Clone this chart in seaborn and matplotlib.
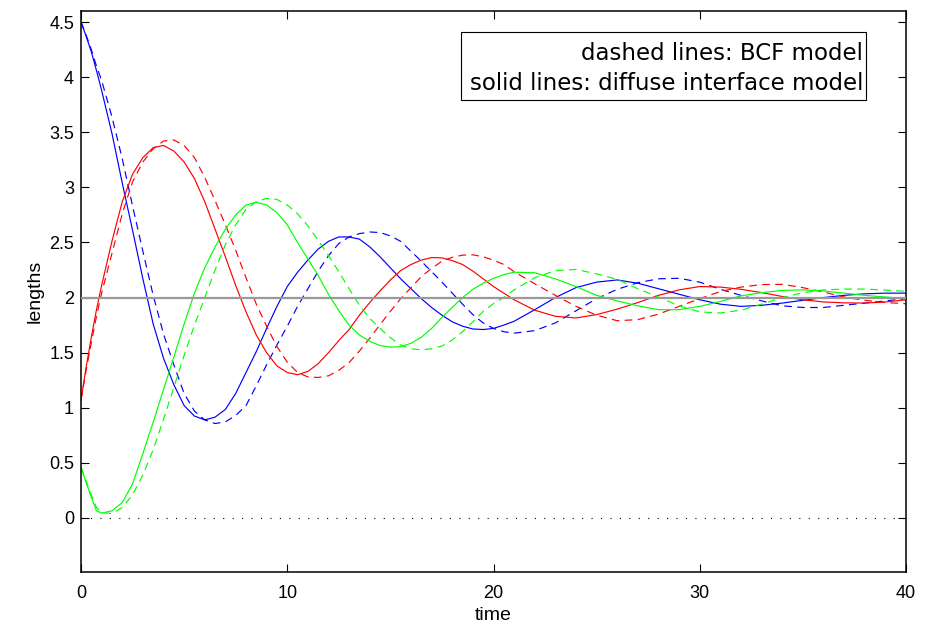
import numpy as np
import pandas as pd
import matplotlib
matplotlib.use("Agg")
import matplotlib.pyplot as plt
import seaborn as sns
from matplotlib.patches import Rectangle

# ---- island lengths over time (solid: diffuse interface model, dashed: BCF model) ----
time = [0, 0.25, 0.5, 0.75, 1.0, 1.5, 2.0, 2.5, 3.0, 3.5, 4.0, 4.5, 5.0, 5.5, 6.0, 6.5,
        7.0, 7.5, 8.0, 8.5, 9.0, 9.5, 10.0, 10.5, 11.0, 11.5, 12.0, 12.5, 13.0, 13.5,
        14.0, 14.5, 15.0, 15.5, 16.0, 16.5, 17.0, 17.5, 18.0, 18.5, 19.0, 19.5, 20.0,
        20.5, 21, 22, 23, 24, 25, 26, 27, 28, 29, 30, 31, 32, 33, 34, 35, 36, 37, 38,
        39, 40]

blue_solid = [4.50, 4.37, 4.23, 4.06, 3.88, 3.49, 3.04, 2.61, 2.17, 1.76, 1.45, 1.21, 1.02,
              0.925, 0.89, 0.915, 0.985, 1.13, 1.32, 1.51, 1.72, 1.92, 2.10, 2.23, 2.34, 2.44,
              2.51, 2.55, 2.55, 2.53, 2.46, 2.37, 2.27, 2.17, 2.08, 1.99, 1.91, 1.84, 1.78,
              1.74, 1.715, 1.71, 1.72, 1.75, 1.785, 1.89, 2.0, 2.09, 2.14, 2.16, 2.13, 2.08,
              2.03, 1.98, 1.94, 1.92, 1.93, 1.95, 1.975, 2.0, 2.02, 2.034, 2.04, 2.04]

blue_dashed = [4.50, 4.38, 4.25, 4.10, 3.97, 3.64, 3.26, 2.83, 2.42, 2.02, 1.67, 1.39, 1.13,
               0.97, 0.89, 0.857, 0.872, 0.93, 1.02, 1.20, 1.39, 1.57, 1.74, 1.92, 2.08,
               2.24, 2.38, 2.49, 2.55, 2.58, 2.595, 2.59, 2.56, 2.51, 2.42, 2.33, 2.235, 2.14,
               2.04, 1.94, 1.845, 1.77, 1.72, 1.69, 1.677, 1.70, 1.77, 1.88, 1.99, 2.075,
               2.135, 2.17, 2.175, 2.14, 2.075, 2.02, 1.97, 1.925, 1.91, 1.91, 1.93, 1.95,
               1.97, 1.99]

red_solid = [1.07, 1.37, 1.64, 1.89, 2.11, 2.51, 2.87, 3.12, 3.27, 3.36, 3.38, 3.33, 3.23,
             3.08, 2.87, 2.62, 2.37, 2.11, 1.87, 1.66, 1.50, 1.38, 1.32, 1.30, 1.33, 1.40,
             1.50, 1.61, 1.71, 1.84, 1.955, 2.06, 2.16, 2.245, 2.30, 2.34, 2.363, 2.36,
             2.335, 2.30, 2.24, 2.17, 2.10, 2.04, 1.98, 1.885, 1.83, 1.815, 1.845, 1.895,
             1.955, 2.02, 2.07, 2.10, 2.095, 2.075, 2.045, 2.01, 1.98, 1.96, 1.952, 1.95,
             1.96, 1.98]

red_dashed = [1.07, 1.34, 1.59, 1.83, 2.04, 2.40, 2.76, 3.05, 3.23, 3.35, 3.42, 3.43, 3.38,
              3.27, 3.09, 2.88, 2.66, 2.43, 2.18, 1.94, 1.74, 1.555, 1.415, 1.32, 1.28,
              1.275, 1.29, 1.34, 1.41, 1.515, 1.63, 1.755, 1.875, 1.99, 2.09, 2.19, 2.265,
              2.33, 2.365, 2.385, 2.388, 2.37, 2.34, 2.30, 2.235, 2.125, 2.02, 1.92, 1.84,
              1.79, 1.80, 1.85, 1.92, 1.99, 2.055, 2.095, 2.118, 2.12, 2.09, 2.05, 2.005,
              1.975, 1.955, 1.944]

green_solid = [0.46, 0.32, 0.19, 0.065, 0.045, 0.065, 0.14, 0.31, 0.585, 0.87, 1.165, 1.46,
               1.76, 2.04, 2.27, 2.46, 2.62, 2.75, 2.84, 2.865, 2.84, 2.77, 2.66, 2.50, 2.35,
               2.20, 2.03, 1.88, 1.75, 1.66, 1.603, 1.565, 1.55, 1.555, 1.585, 1.64, 1.72,
               1.82, 1.91, 2.00, 2.075, 2.13, 2.175, 2.208, 2.23, 2.225, 2.17, 2.10, 2.02,
               1.97, 1.925, 1.89, 1.89, 1.92, 1.965, 2.015, 2.045, 2.065, 2.07, 2.06, 2.04,
               2.02, 2.005, 1.99]

green_dashed = [0.46, 0.335, 0.21, 0.095, 0.05, 0.04, 0.095, 0.21, 0.39, 0.62, 0.895, 1.185,
                1.475, 1.75, 2.0, 2.25, 2.48, 2.66, 2.80, 2.87, 2.90, 2.89, 2.84, 2.76, 2.65,
                2.52, 2.38, 2.235, 2.08, 1.93, 1.81, 1.72, 1.635, 1.57, 1.535, 1.526, 1.535,
                1.56, 1.615, 1.69, 1.78, 1.874, 1.945, 2.0, 2.07, 2.18, 2.245, 2.255, 2.215,
                2.165, 2.08, 2.005, 1.925, 1.87, 1.86, 1.885, 1.94, 2.0, 2.045, 2.07, 2.077,
                2.077, 2.068, 2.056]

equilibrium_length = 2.0
x_ticks = [0, 10, 20, 30, 40]
y_ticks = [0, 0.5, 1, 1.5, 2, 2.5, 3, 3.5, 4, 4.5]
box_lines = ["dashed lines: BCF model", "solid lines: diffuse interface model"]

curves = [
    ("blue", "BCF", blue_dashed),
    ("red", "BCF", red_dashed),
    ("green", "BCF", green_dashed),
    ("blue", "diffuse", blue_solid),
    ("red", "diffuse", red_solid),
    ("green", "diffuse", green_solid),
]
df = pd.concat(
    [pd.DataFrame({"time": time, "length": y, "island": island, "model": model})
     for island, model, y in curves],
    ignore_index=True,
)

sns.set_theme(style="white")
plt.rcParams["font.family"] = ["Liberation Sans", "DejaVu Sans"]
plt.rcParams.update({"text.color": "black", "axes.labelcolor": "black",
                     "xtick.color": "black", "ytick.color": "black"})

fig = plt.figure(figsize=(9.3, 6.25), dpi=100)
ax = fig.add_axes([81 / 930, 1 - 572 / 625, 825 / 930, 561 / 625])

palette = {"blue": (0, 0, 1), "red": (1, 0, 0), "green": (0, 1, 0)}
dashes = {"diffuse": "", "BCF": (6.5, 4.5)}
sns.lineplot(data=df, x="time", y="length", hue="island", style="model",
             palette=palette, dashes=dashes, estimator=None, sort=False,
             linewidth=0.85, legend=False, ax=ax)

ax.axhline(equilibrium_length, color=(0.6, 0.6, 0.6), linewidth=1.6, zorder=5)
ax.axhline(0, color="black", linewidth=0.8, linestyle=(0, (1, 7.5)), zorder=5)

ax.set_xlim(0, 40)
ax.set_ylim(-0.49, 4.6)
ax.set_xticks(x_ticks)
ax.set_xticklabels([str(v) for v in x_ticks])
ax.set_yticks(y_ticks)
ax.set_yticklabels([("%g" % v) for v in y_ticks])
ax.tick_params(direction="in", length=6, width=0.8, colors="black", labelsize=13,
               top=True, right=True, bottom=True, left=True)
ax.tick_params(axis="x", pad=9)
ax.tick_params(axis="y", pad=5)
for s in ax.spines.values():
    s.set_visible(True)
    s.set_color("black")
    s.set_linewidth(1.1)

ax.set_xlabel("time", fontsize=14, labelpad=4, color="black")
ax.set_ylabel("lengths", fontsize=14, labelpad=4, color="black")

# annotation box in the upper right
bx0, bx1 = (461 - 81) / 825, (866 - 81) / 825
by0, by1 = (572 - 100) / 561, (572 - 32) / 561
ax.add_patch(Rectangle((bx0, by0), bx1 - bx0, by1 - by0, transform=ax.transAxes,
                       facecolor="white", edgecolor="black", linewidth=0.8, zorder=6))
box_font = ["DejaVu Sans"]
ax.text((863 - 81) / 825, (572 - 60) / 561, box_lines[0], transform=ax.transAxes,
        ha="right", va="baseline", fontsize=16.5, family=box_font, color="black", zorder=7)
ax.text((863 - 81) / 825, (572 - 90) / 561, box_lines[1], transform=ax.transAxes,
        ha="right", va="baseline", fontsize=16.5, family=box_font, color="black", zorder=7)

fig.savefig("out.png", dpi=100, facecolor="white")
